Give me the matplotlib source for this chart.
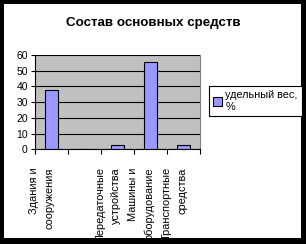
import matplotlib
matplotlib.use("Agg")
import matplotlib.pyplot as plt
from matplotlib.patches import Rectangle
from matplotlib.transforms import ScaledTranslation

plt.rcParams['font.family'] = ['Liberation Sans', 'DejaVu Sans']

# data
categories = ['Здания и\nсооружения', '', 'Передаточные\nустройства',
              'Машины и\nоборудование', 'Транспортные\nсредства']
values = [38, 0, 2.5, 55.5, 2.5]
series_name = 'удельный вес,\n%'
title = 'Состав основных средств'
yticks = [0, 10, 20, 30, 40, 50, 60]

fig = plt.figure(figsize=(3.06, 2.44), dpi=100)
fig.patch.set_facecolor('black')
# white chart area inside black border
fig.patches.append(Rectangle((4 / 306, 6 / 244), 297 / 306, 234 / 244,
                             transform=fig.transFigure, facecolor='white',
                             edgecolor='none', zorder=-10))

ax = fig.add_axes([0.1134, 0.3881, 0.5412, 0.3865])
ax.set_facecolor('#c0c0c0')

x = list(range(len(categories)))
ax.bar(x, values, width=0.4, color='#9999ff', edgecolor='black',
       linewidth=0.8, label=series_name, zorder=3)

ax.set_xlim(-0.5, len(categories) - 0.5)
ax.set_ylim(0, 60)
ax.set_yticks(yticks)
ax.yaxis.grid(True, color='black', linewidth=0.8, zorder=1)
ax.set_axisbelow(True)

# category boundaries as minor ticks, labels on major ticks
ax.set_xticks([i - 0.5 for i in range(len(categories) + 1)], minor=True)
ax.set_xticks(x)
ax.set_xticklabels(categories, rotation=90, va='top', ha='center',
                   multialignment='right', linespacing=1.7)
ax.tick_params(axis='x', which='major', length=0, pad=13, labelsize=7.9)
ax.tick_params(axis='x', which='minor', length=3.5, width=0.8,
               direction='out', color='black')
ax.tick_params(axis='y', length=3, width=0.8, direction='out', pad=2,
               labelsize=7.5)
for lab in ax.get_xticklabels():
    lab.set_transform(lab.get_transform() +
                      ScaledTranslation(-6.8 / 72, 0, fig.dpi_scale_trans))

for s in ['left', 'bottom']:
    ax.spines[s].set_color('black')
    ax.spines[s].set_linewidth(0.8)
ax.spines['top'].set_visible(False)
ax.spines['right'].set_color('#808080')
ax.spines['right'].set_linewidth(0.8)

leg = ax.legend(loc='upper left', bbox_to_anchor=(209 / 306, 1 - 86 / 244),
                bbox_transform=fig.transFigure, fontsize=7.8,
                fancybox=False, shadow=False, framealpha=1,
                edgecolor='black', handlelength=0.8, handleheight=0.8,
                handletextpad=0.3, borderpad=0.4, borderaxespad=0)
leg.get_frame().set_linewidth(0.8)

fig.text(0.5, 1 - 23 / 244, title, ha='center', va='center',
         fontsize=9.6, fontweight='bold')

fig.savefig('out.png', dpi=100, facecolor=fig.get_facecolor())
